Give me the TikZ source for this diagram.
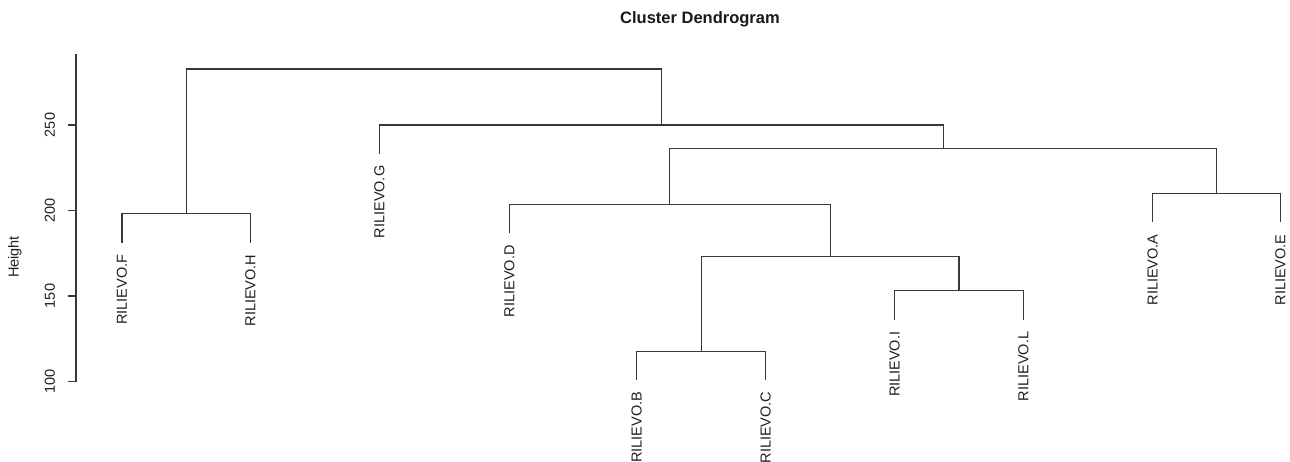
\documentclass[tikz,border=0pt]{standalone}
\usepackage{fontspec}
\setmainfont{Liberation Sans}
\begin{document}
\begin{tikzpicture}[x=1pt,y=-1pt,
  tree/.style={draw=black!78, line width=1.1pt, line cap=rect},
  lab/.style={font=\fontsize{14.5}{16}\selectfont, text=black!88, inner sep=0pt, rotate=90, anchor=east},
  ticklab/.style={font=\fontsize{14.5}{16}\selectfont, text=black!88, inner sep=0pt, rotate=90, anchor=center},
  axisline/.style={draw=black!78, line width=1.1pt}]
\useasboundingbox (0,0) rectangle (1290,462);
% title
\node[font=\bfseries\fontsize{16.5}{18}\selectfont, text=black!90, inner sep=0pt] (title) at (700,19.5) {Cluster Dendrogram};
% axis
\coordinate (ax0) at (76,381.5);
\coordinate (ax1) at (76,54);
\draw[axisline] (ax0) -- (ax1);
\foreach \v/\yy in {100/381.5,150/296,200/210.5,250/125}{
  \coordinate (t\v) at (76,\yy);
  \draw[axisline] (t\v) -- ++(-8,0);
  \node[ticklab] (tl\v) at (50,\yy) {\v};
}
\node[ticklab] (ylab) at (15,257) {Height};
% leaves
\coordinate (F) at (122,242);
\coordinate (H) at (250.5,242);
\coordinate (G) at (379.3,153);
\coordinate (D) at (509.3,232.7);
\coordinate (B) at (636.7,379);
\coordinate (C) at (765.7,379);
\coordinate (I) at (894.7,319);
\coordinate (L) at (1023.3,319);
\coordinate (A) at (1152.7,221.7);
\coordinate (E) at (1280.3,221.7);
% merges
\coordinate (mFH) at (186.2,213.6);
\coordinate (mBC) at (701.2,351.7);
\coordinate (mIL) at (959,290.7);
\coordinate (mBCIL) at (830.1,256.7);
\coordinate (mDBCIL) at (669.7,204.6);
\coordinate (mAE) at (1216.5,193.7);
\coordinate (mDAE) at (943.1,148.8);
\coordinate (mG) at (661.2,125);
\coordinate (root) at (423.7,69);
% edges
\draw[tree] (F) |- (mFH) -| (H);
\draw[tree] (B) |- (mBC) -| (C);
\draw[tree] (I) |- (mIL) -| (L);
\draw[tree] (mBC) |- (mBCIL) -| (mIL);
\draw[tree] (D) |- (mDBCIL) -| (mBCIL);
\draw[tree] (A) |- (mAE) -| (E);
\draw[tree] (mDBCIL) |- (mDAE) -| (mAE);
\draw[tree] (G) |- (mG) -| (mDAE);
\draw[tree] (mFH) |- (root) -| (mG);
% labels
\foreach \n in {F,H,G,D,B,C,I,L,A,E}{
  \path (\n) ++(0,12.5) node[lab] (lab\n) {RILIEVO.\n};
}
\end{tikzpicture}
\end{document}
